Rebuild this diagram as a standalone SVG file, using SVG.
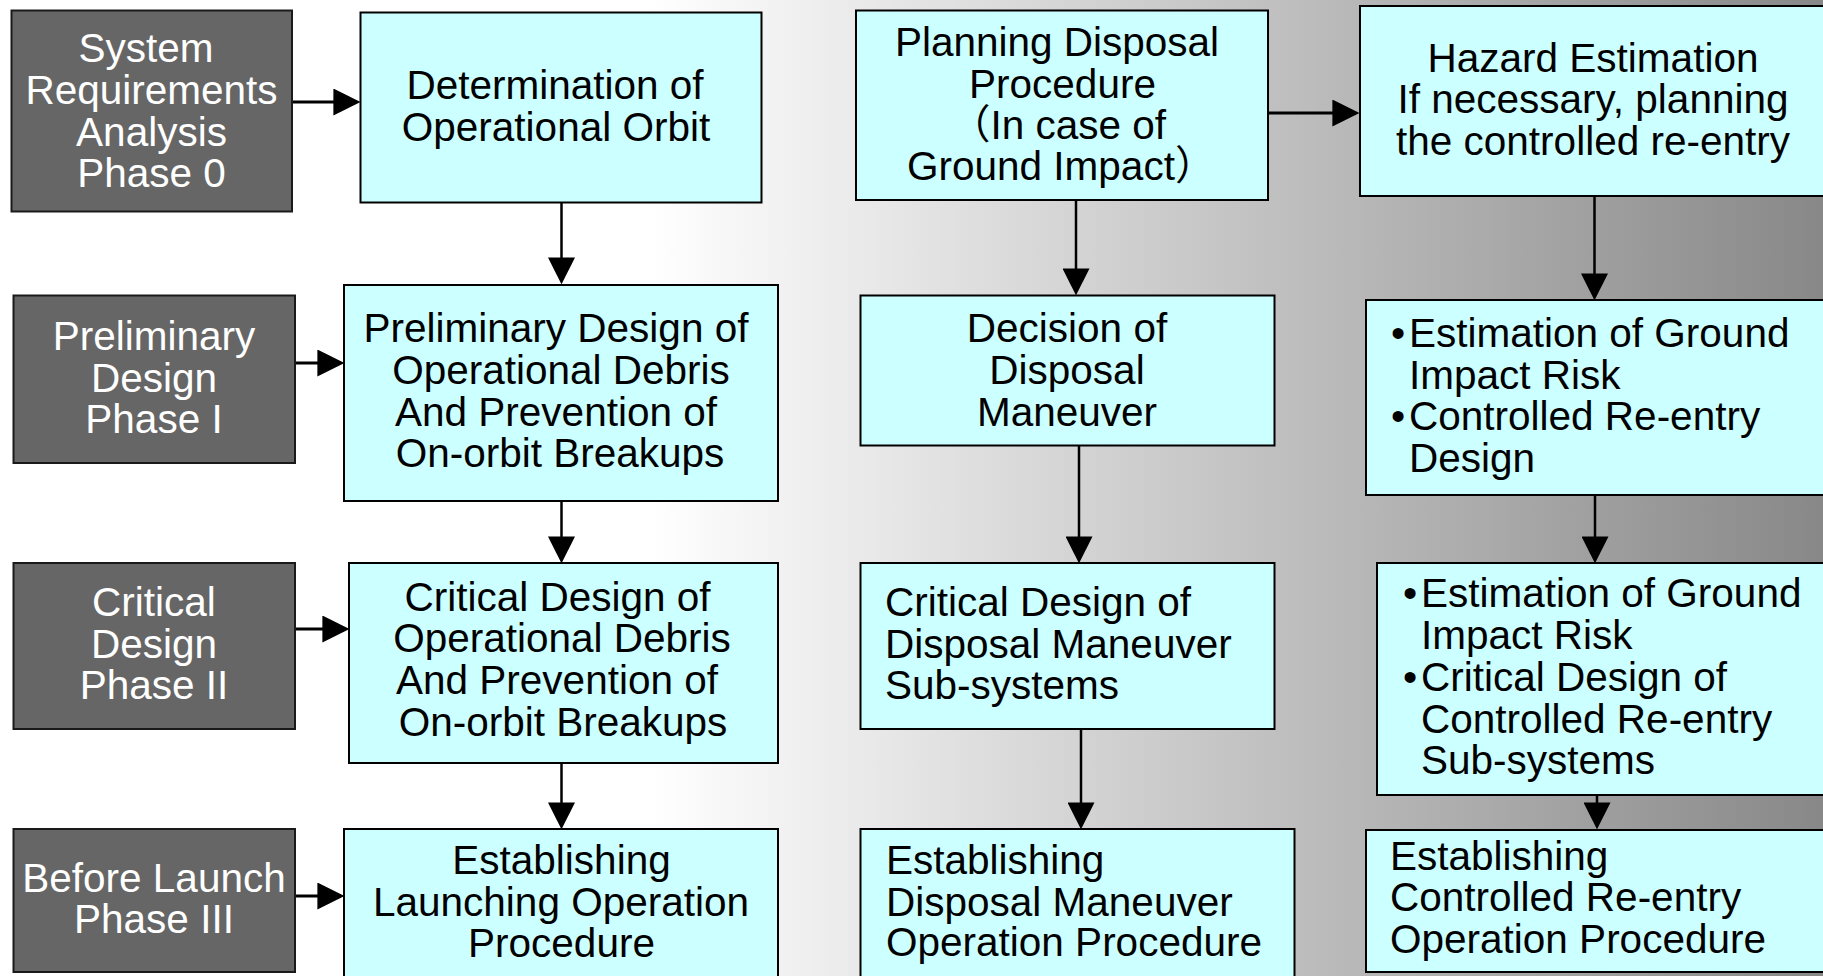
<svg xmlns="http://www.w3.org/2000/svg" width="1823" height="976" viewBox="0 0 1823 976">
<defs>
<linearGradient id="bg" gradientUnits="userSpaceOnUse" x1="650" y1="0" x2="1823" y2="0">
<stop offset="0" stop-color="#ffffff"/>
<stop offset="1" stop-color="#888888"/>
</linearGradient>
<marker id="ah" markerUnits="userSpaceOnUse" markerWidth="27" markerHeight="27" viewBox="0 0 26 26" refX="16" refY="13" orient="auto">
<path d="M0,0 L26,13 L0,26 z" fill="#000"/>
</marker>
</defs>
<style>
.phase{fill:#666666;stroke:#1a1a1a;stroke-width:2}
.box{fill:#ccffff;stroke:#000;stroke-width:2}
text{font-family:"Liberation Sans","Noto Sans CJK JP",Arial,sans-serif;font-size:40.5px}
.w{fill:#ffffff;text-anchor:middle}
.c{fill:#000;text-anchor:middle}
.l{fill:#000;text-anchor:start}
.h{fill:none;stroke:#000;stroke-width:3;marker-end:url(#ah)}
.v{fill:none;stroke:#000;stroke-width:2.5;marker-end:url(#ah)}
</style>
<rect x="0" y="0" width="1823" height="976" fill="url(#bg)"/>

<g id="connectors">
<line class="h" x1="292" y1="102" x2="350" y2="102"/>
<line class="h" x1="295" y1="363" x2="334" y2="363"/>
<line class="h" x1="295" y1="629" x2="339" y2="629"/>
<line class="h" x1="295" y1="896" x2="334" y2="896"/>
<line class="h" x1="1268" y1="113" x2="1349" y2="113"/>
<line class="v" x1="561.5" y1="203" x2="561.5" y2="274"/>
<line class="v" x1="561.5" y1="501" x2="561.5" y2="553"/>
<line class="v" x1="561.5" y1="763" x2="561.5" y2="819"/>
<line class="v" x1="1076" y1="200" x2="1076" y2="285"/>
<line class="v" x1="1079" y1="445" x2="1079" y2="553"/>
<line class="v" x1="1081" y1="729" x2="1081" y2="819"/>
<line class="v" x1="1594.5" y1="196" x2="1594.5" y2="290"/>
<line class="v" x1="1595" y1="495" x2="1595" y2="553"/>
<line class="v" x1="1597" y1="795" x2="1597" y2="819"/>
</g>

<g id="phase0">
<rect class="phase" x="11.5" y="10.5" width="280.5" height="201"/>
<text class="w"><tspan x="146" y="62">System</tspan><tspan x="151.5" y="104">Requirements</tspan><tspan x="151.5" y="146">Analysis</tspan><tspan x="151.5" y="187">Phase 0</tspan></text>
</g>
<g id="phase1">
<rect class="phase" x="13.5" y="295.5" width="281.5" height="167.5"/>
<text class="w"><tspan x="154" y="350">Preliminary</tspan><tspan x="154" y="392">Design</tspan><tspan x="154" y="433">Phase I</tspan></text>
</g>
<g id="phase2">
<rect class="phase" x="13.5" y="563" width="281.5" height="166"/>
<text class="w"><tspan x="154" y="616">Critical</tspan><tspan x="154" y="658">Design</tspan><tspan x="154" y="699">Phase II</tspan></text>
</g>
<g id="phase3">
<rect class="phase" x="13.5" y="829" width="281.5" height="143"/>
<text class="w"><tspan x="154" y="892">Before Launch</tspan><tspan x="154" y="933">Phase III</tspan></text>
</g>

<g id="orbit">
<rect class="box" x="360.5" y="12.5" width="401" height="190"/>
<text class="c"><tspan x="555" y="99">Determination of</tspan><tspan x="556" y="141">Operational Orbit</tspan></text>
</g>
<g id="prelim">
<rect class="box" x="344" y="285" width="434" height="216"/>
<text class="c"><tspan x="556" y="342">Preliminary Design of</tspan><tspan x="561" y="384">Operational Debris</tspan><tspan x="556" y="426">And Prevention of</tspan><tspan x="560" y="467">On-orbit Breakups</tspan></text>
</g>
<g id="critical">
<rect class="box" x="349" y="563" width="429" height="200"/>
<text class="c"><tspan x="557.5" y="611">Critical Design of</tspan><tspan x="562" y="652">Operational Debris</tspan><tspan x="557" y="694">And Prevention of</tspan><tspan x="563" y="736">On-orbit Breakups</tspan></text>
</g>
<g id="launch">
<rect class="box" x="344" y="829" width="434" height="160"/>
<text class="c"><tspan x="561.5" y="874">Establishing</tspan><tspan x="561" y="916">Launching Operation</tspan><tspan x="561.5" y="957">Procedure</tspan></text>
</g>

<g id="planning">
<rect class="box" x="856" y="10.5" width="412" height="189.5"/>
<text class="c"><tspan x="1057" y="56">Planning Disposal</tspan><tspan x="1062.5" y="98">Procedure</tspan></text>
<text class="l"><tspan x="950" y="139">（In case of</tspan><tspan x="907" y="180">Ground Impact）</tspan></text>
</g>
<g id="decision">
<rect class="box" x="860.5" y="295.5" width="414" height="150"/>
<text class="c"><tspan x="1067" y="342">Decision of</tspan><tspan x="1067" y="384">Disposal</tspan><tspan x="1067" y="426">Maneuver</tspan></text>
</g>
<g id="critdisposal">
<rect class="box" x="860.5" y="563" width="414" height="166"/>
<text class="l"><tspan x="885" y="616">Critical Design of</tspan><tspan x="885" y="658">Disposal Maneuver</tspan><tspan x="885" y="699">Sub-systems</tspan></text>
</g>
<g id="estdisposal">
<rect class="box" x="860.5" y="829" width="434" height="160"/>
<text class="l"><tspan x="886" y="874">Establishing</tspan><tspan x="886" y="916">Disposal Maneuver</tspan><tspan x="886" y="956">Operation Procedure</tspan></text>
</g>

<g id="hazard">
<rect class="box" x="1360" y="6" width="480" height="190"/>
<text class="c"><tspan x="1593" y="72">Hazard Estimation</tspan><tspan x="1593" y="113">If necessary, planning</tspan><tspan x="1593" y="155">the controlled re-entry</tspan></text>
</g>
<g id="reentrydesign">
<rect class="box" x="1366" y="300" width="480" height="195"/>
<text class="l"><tspan x="1391" y="347">•</tspan><tspan x="1409" y="347">Estimation of Ground</tspan><tspan x="1409" y="389">Impact Risk</tspan><tspan x="1391" y="430">•</tspan><tspan x="1409" y="430">Controlled Re-entry</tspan><tspan x="1409" y="472">Design</tspan></text>
</g>
<g id="reentrycritical">
<rect class="box" x="1377" y="563" width="480" height="232"/>
<text class="l"><tspan x="1403" y="607">•</tspan><tspan x="1421" y="607">Estimation of Ground</tspan><tspan x="1421" y="649">Impact Risk</tspan><tspan x="1403" y="691">•</tspan><tspan x="1421" y="691">Critical Design of</tspan><tspan x="1421" y="733">Controlled Re-entry</tspan><tspan x="1421" y="774">Sub-systems</tspan></text>
</g>
<g id="reentryop">
<rect class="box" x="1366" y="830" width="480" height="142"/>
<text class="l"><tspan x="1390" y="870">Establishing</tspan><tspan x="1390" y="911">Controlled Re-entry</tspan><tspan x="1390" y="953">Operation Procedure</tspan></text>
</g>
</svg>
